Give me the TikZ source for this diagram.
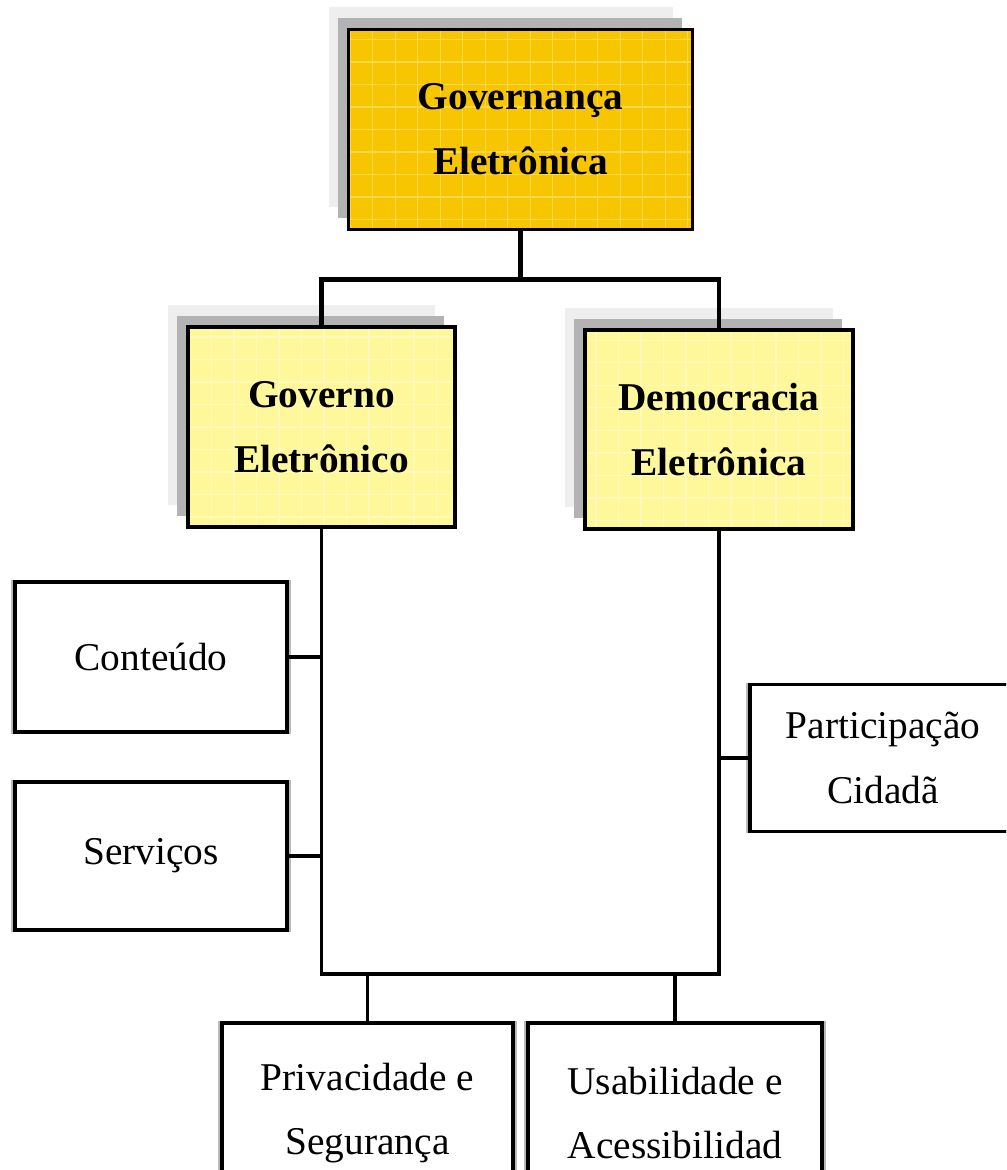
\documentclass[tikz,border=0pt]{standalone}
\usepackage{fontspec}
\setmainfont{Liberation Serif}
\usetikzlibrary{shadows}

\definecolor{govorange}{HTML}{F8C600}
\definecolor{govyellow}{HTML}{FFF89A}
\definecolor{shadowdark}{HTML}{B3B3B3}
\definecolor{shadowlight}{HTML}{EEEEEE}

\begin{document}
\begin{tikzpicture}[
  grade/.style={path picture={\draw[white,opacity=.3,line width=.4pt,step=0.225] (path picture bounding box.south west) grid (path picture bounding box.north east);}},
  caixa/.style={draw=black, line width=1pt, inner sep=0pt, align=center, font=\fontsize{11.2}{18.4}\selectfont},
  sombra/.style={general shadow={fill=shadowlight, shadow xshift=-0.20cm, shadow yshift=0.22cm},
                 general shadow={fill=shadowdark, shadow xshift=-0.11cm, shadow yshift=0.11cm}},
  principal/.style={caixa, sombra, grade, font=\fontsize{11.2}{18.4}\selectfont\bfseries},
  folha/.style={caixa, fill=white,
                general shadow={draw=gray!55, line width=1pt, shadow xshift=0.025cm, shadow yshift=0cm},
                general shadow={draw=gray!55, line width=1pt, shadow xshift=-0.025cm, shadow yshift=0cm}},
  liga/.style={line width=1.3pt},
  ligafina/.style={line width=0.9pt}
]
\useasboundingbox (0,0) rectangle (10.06,-11.70);
\clip (0,0) rectangle (10.06,-11.70);

% topo
\node[principal, fill=govorange, minimum width=3.44cm, minimum height=2.00cm] (ge) at (5.205,-1.295) {Governança\\Eletrônica};

\node[principal, fill=govyellow, minimum width=2.67cm, minimum height=2.00cm] (go) at (3.215,-4.27) {Governo\\Eletrônico};
\node[principal, fill=govyellow, minimum width=2.68cm, minimum height=1.99cm] (de) at (7.19,-4.295) {Democracia\\Eletrônica};

% folhas
\node[folha, minimum width=2.72cm, minimum height=1.50cm] (ct) at (1.51,-6.57) {Conteúdo};
\node[folha, minimum width=2.72cm, minimum height=1.48cm] (sv) at (1.51,-8.56) {Serviços};
\node[folha, minimum width=2.66cm, minimum height=1.47cm] (pc) at (8.83,-7.58) {Participação\\Cidadã};
\node[folha, minimum width=2.91cm, minimum height=1.80cm] (ps) at (3.675,-11.13) {Privacidade e\\Segurança};
\node[folha, minimum width=2.94cm, minimum height=1.80cm] (ua) at (6.75,-11.13) {Usabilidade e\\Acessibilidad};

\coordinate (base) at (0,-9.74);

\draw[liga] (ge.south) -- ++(0,-0.48) -| (go.north);
\draw[liga] (ge.south) -- ++(0,-0.48) -| (de.north);

\draw[ligafina] (go.south) -- (go.south |- base) -- (de.south |- base) -- (de.south);
\draw[ligafina] (ct.east) -- (ct.east -| go.south);
\draw[ligafina] (sv.east) -- (sv.east -| go.south);
\draw[ligafina] (pc.west) -- (pc.west -| de.south);
\draw[ligafina] (ps.north) -- (ps.north |- base);
\draw[ligafina] (ua.north) -- (ua.north |- base);

\end{tikzpicture}
\end{document}
